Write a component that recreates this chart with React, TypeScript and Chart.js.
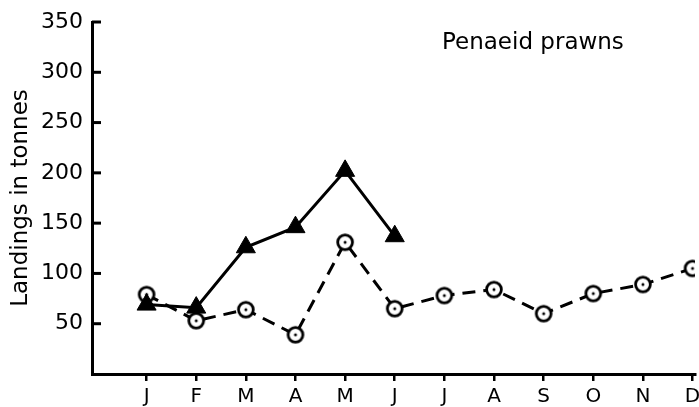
import React, { useEffect, useRef } from "react";
import { Chart, registerables } from "chart.js";

Chart.register(...registerables);

const months = ["J", "F", "M", "A", "M", "J", "J", "A", "S", "O", "N", "D"];
const triangleSeries = [69, 66, 126, 146, 202, 137];
const circleSeries = [79, 53, 64, 39, 131, 65, 78, 84, 60, 80, 89, 105];
const yTicks = [50, 100, 150, 200, 250, 300, 350];
const chartTitle = "Penaeid prawns";
const yTitle = "Landings in tonnes";

const FONT = "'DejaVu Sans', sans-serif";

function makeCircleDot(): HTMLCanvasElement {
  const c = document.createElement("canvas");
  c.width = 20;
  c.height = 20;
  const ctx = c.getContext("2d")!;
  ctx.beginPath();
  ctx.arc(10, 10, 7.4, 0, Math.PI * 2);
  ctx.fillStyle = "#fff";
  ctx.fill();
  ctx.lineWidth = 2.8;
  ctx.strokeStyle = "#000";
  ctx.stroke();
  ctx.beginPath();
  ctx.arc(10, 10, 1.5, 0, Math.PI * 2);
  ctx.fillStyle = "#000";
  ctx.fill();
  return c;
}

const decorPlugin = {
  id: "decor",
  afterDraw(chart: any) {
    const ctx = chart.ctx;
    const y = chart.scales.y;
    const area = chart.chartArea;
    ctx.save();
    ctx.strokeStyle = "#000";
    ctx.lineWidth = 3;
    yTicks.forEach((v) => {
      const py = y.getPixelForValue(v);
      ctx.beginPath();
      ctx.moveTo(area.left, py);
      ctx.lineTo(area.left + 9, py);
      ctx.stroke();
    });
    ctx.fillStyle = "#000";
    ctx.font = `23px ${FONT}`;
    ctx.textAlign = "left";
    ctx.textBaseline = "middle";
    ctx.fillText(chartTitle, area.right - 253, 43);
    ctx.restore();
  },
};

export default function App() {
  const ref = useRef<HTMLCanvasElement>(null);
  useEffect(() => {
    const dot = makeCircleDot();
    const chart = new Chart(ref.current!, {
      type: "line",
      data: {
        datasets: [
          {
            data: triangleSeries.map((v, i) => ({ x: i, y: v })),
            borderColor: "#000",
            backgroundColor: "#000",
            borderWidth: 3,
            pointStyle: "triangle",
            pointRadius: 11,
            pointBorderWidth: 1,
            pointBackgroundColor: "#000",
            pointBorderColor: "#000",
            tension: 0,
          },
          {
            data: circleSeries.map((v, i) => ({ x: i, y: v })),
            borderColor: "#000",
            borderWidth: 3,
            borderDash: [13, 8],
            pointStyle: dot as any,
            pointRadius: 10,
            tension: 0,
          },
        ],
      },
      options: {
        responsive: false,
        animation: false,
        layout: { autoPadding: false, padding: { top: 22, right: 4, left: 0, bottom: 0 } },
        plugins: { legend: { display: false }, tooltip: { enabled: false }, title: { display: false } },
        scales: {
          x: {
            type: "linear",
            min: -1.1,
            max: 11.05,
            afterBuildTicks: (s: any) => {
              s.ticks = months.map((_, i) => ({ value: i }));
            },
            afterFit: (s: any) => {
              s.height = 33;
              s.paddingLeft = 0;
              s.paddingRight = 0;
            },
            ticks: {
              autoSkip: false,
              maxRotation: 0,
              padding: 4,
              color: "#000",
              font: { family: FONT, size: 20 },
              callback: (v: any) => months[v as number] ?? "",
            },
            grid: { drawOnChartArea: false, drawTicks: true, tickLength: 7, color: "#000", lineWidth: 2.5 },
            border: { display: true, color: "#000", width: 3 },
          },
          y: {
            min: 0,
            max: 350,
            afterBuildTicks: (s: any) => {
              s.ticks = yTicks.map((v) => ({ value: v }));
            },
            afterFit: (s: any) => {
              s.width = 92;
              s.paddingTop = 0;
              s.paddingBottom = 0;
            },
            ticks: {
              padding: 9,
              color: "#000",
              font: { family: FONT, size: 22 },
            },
            grid: { drawOnChartArea: false, drawTicks: false },
            border: { display: true, color: "#000", width: 3 },
            title: {
              display: true,
              text: yTitle,
              color: "#000",
              font: { family: FONT, size: 23 },
              padding: { top: 7, bottom: 0 },
            },
          },
        },
      },
      plugins: [decorPlugin],
    });
    return () => chart.destroy();
  }, []);
  return (
    <div style={{ position: "fixed", left: 0, top: 0, width: 699, height: 407, background: "#fff" }}>
      <canvas ref={ref} width={699} height={407} />
    </div>
  );
}
